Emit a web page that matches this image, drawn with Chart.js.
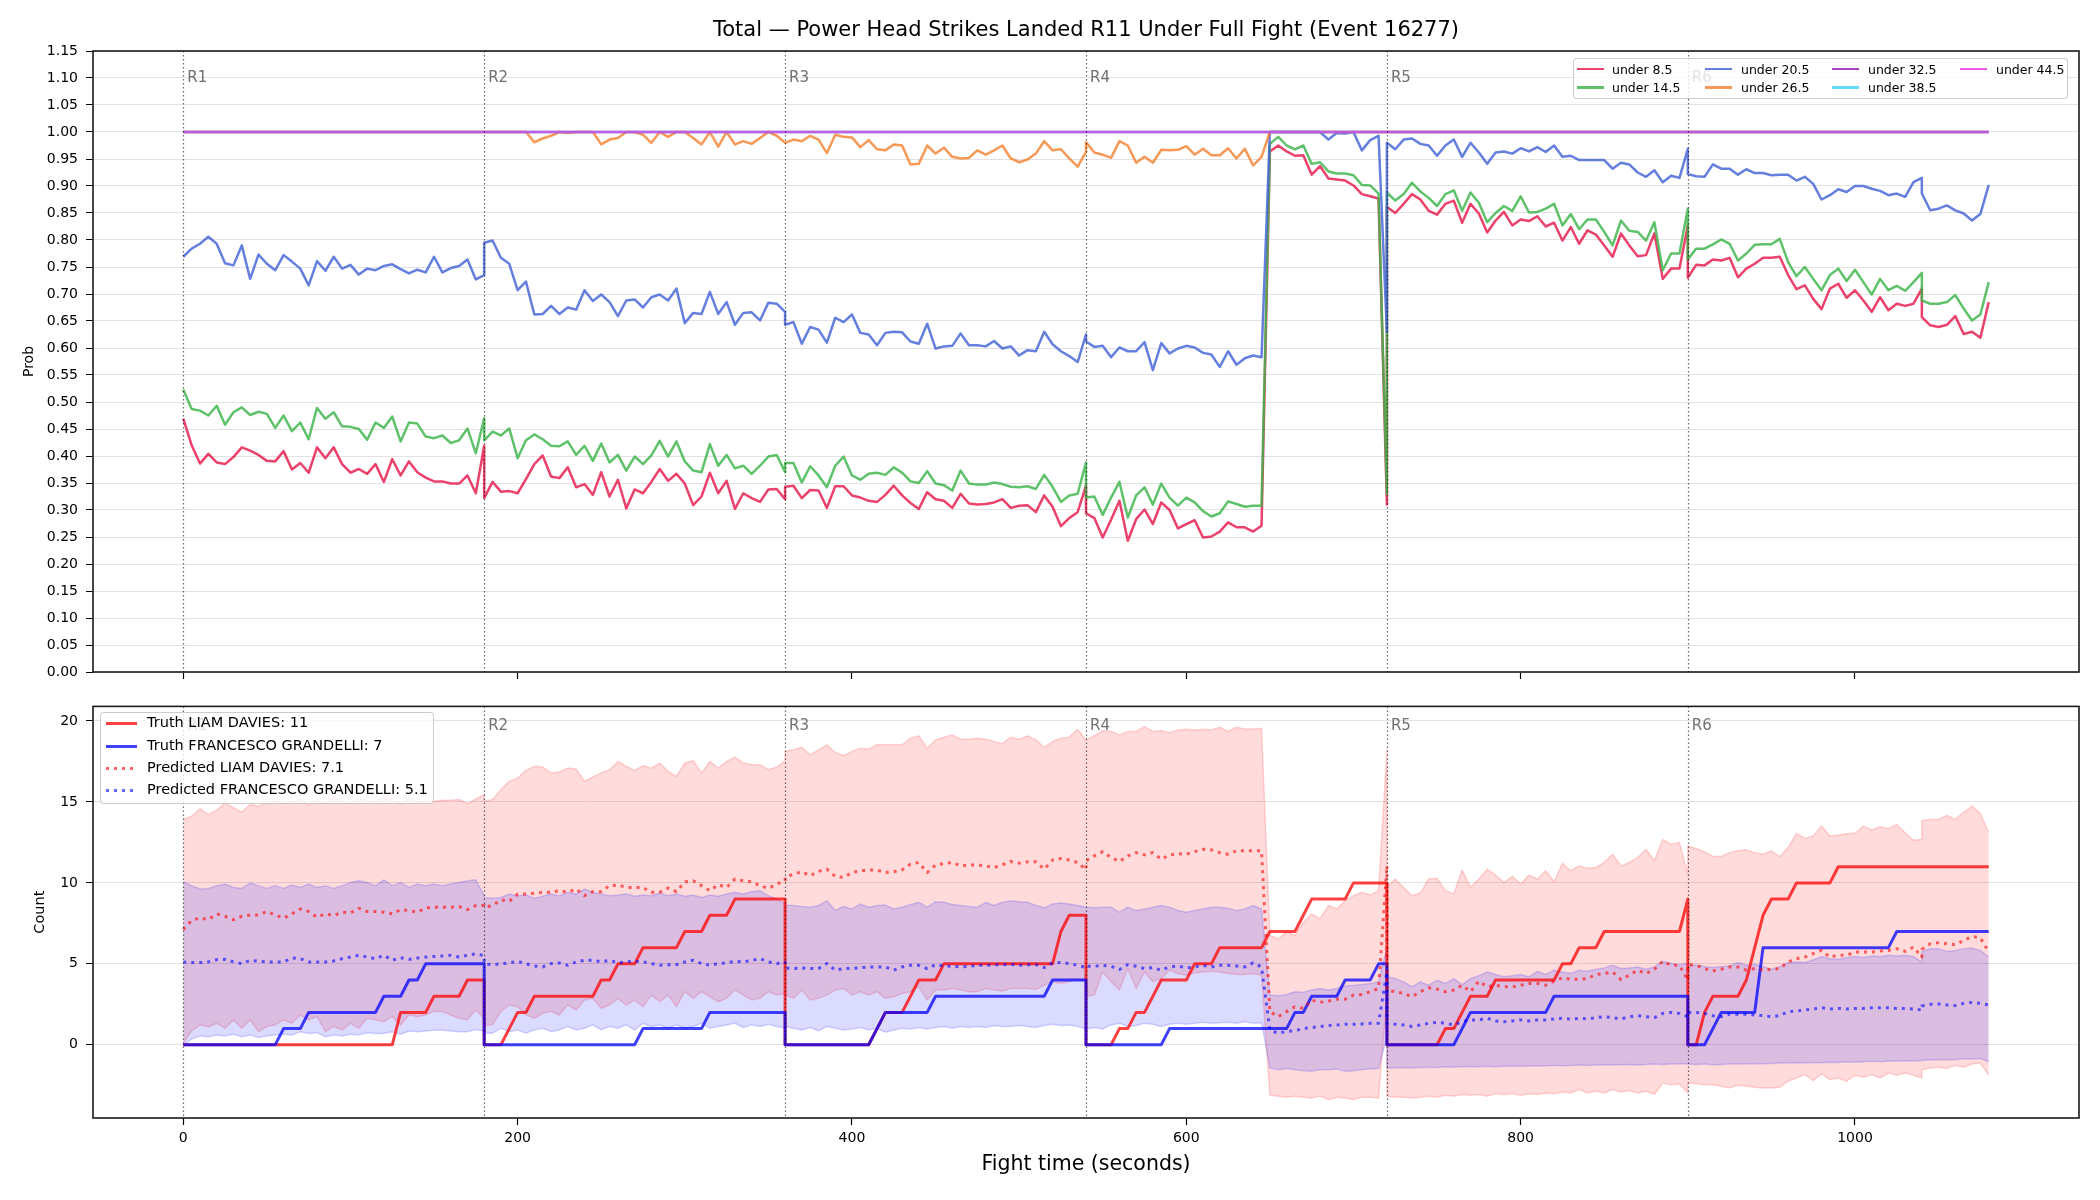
<!DOCTYPE html>
<html>
<head>
<meta charset="utf-8">
<script src="https://cdn.jsdelivr.net/npm/chart.js@4.4.1/dist/chart.umd.min.js"></script>
<style>
  html, body { margin:0; padding:0; background:#fff; }
  body { width:2100px; height:1200px; position:relative; overflow:hidden; font-family:"DejaVu Sans", sans-serif; }
  canvas { position:absolute; left:0; }
  .legend { position:absolute; box-sizing:border-box; background:rgba(255,255,255,0.8); border:1px solid rgba(0,0,0,0.2); border-radius:4px; }
  .item { position:absolute; white-space:nowrap; color:#000; }
  .handle { position:absolute; }
</style>
</head>
<body>
<canvas id="top" width="2100" height="690" style="top:0"></canvas>
<canvas id="bottom" width="2100" height="510" style="top:690px"></canvas>
<div id="legTop" class="legend" style="left:1573px;top:58px;width:495px;height:41px"></div>
<div id="legBot" class="legend" style="left:100px;top:712px;width:334px;height:92px"></div>
<script>
// ---------------- DATA ----------------
const chartTitle = "Total \u2014 Power Head Strikes Landed R11 Under Full Fight (Event 16277)";
const xAxisTitle = "Fight time (seconds)";
const roundStarts = [0, 180, 360, 540, 720, 900];
const roundLabels = ["R1", "R2", "R3", "R4", "R5", "R6"];
const timeTicks = [0, 200, 400, 600, 800, 1000];
const probTicks = [0,0.05,0.10,0.15,0.20,0.25,0.30,0.35,0.40,0.45,0.50,0.55,0.60,0.65,0.70,0.75,0.80,0.85,0.90,0.95,1.00,1.05,1.10,1.15];
const countTicks = [0, 5, 10, 15, 20];

const times = [
  0,5,10,15,20,25,30,35,40,45,50,55,60,65,70,75,80,85,90,95,100,105,110,115,120,125,130,135,140,145,150,155,160,165,170,175,180,
  180,185,190,195,200,205,210,215,220,225,230,235,240,245,250,255,260,265,270,275,280,285,290,295,300,305,310,315,320,325,330,335,340,345,350,355,360,
  360,365,370,375,380,385,390,395,400,405,410,415,420,425,430,435,440,445,450,455,460,465,470,475,480,485,490,495,500,505,510,515,520,525,530,535,540,
  540,545,550,555,560,565,570,575,580,585,590,595,600,605,610,615,620,625,630,635,640,645,650,655,660,665,670,675,680,685,690,695,700,705,710,715,720,
  720,725,730,735,740,745,750,755,760,765,770,775,780,785,790,795,800,805,810,815,820,825,830,835,840,845,850,855,860,865,870,875,880,885,890,895,900,
  900,905,910,915,920,925,930,935,940,945,950,955,960,965,970,975,980,985,990,995,1000,1005,1010,1015,1020,1025,1030,1035,1040,1040,1045,1050,1055,1060,1065,1070,1075,1080
];

const probLabels = ["under 8.5", "under 14.5", "under 20.5", "under 26.5", "under 32.5", "under 38.5", "under 44.5"];

const under8_5 = [
  0.469,0.420,0.386,0.404,0.388,0.385,0.398,0.416,0.410,0.402,0.391,0.390,0.409,0.375,0.387,0.369,0.416,0.396,0.416,0.385,0.369,0.376,0.367,0.385,0.352,0.394,0.364,0.390,0.370,0.360,0.353,0.353,0.349,0.349,0.364,0.331,0.419,
  0.322,0.352,0.334,0.335,0.331,0.357,0.385,0.401,0.362,0.359,0.379,0.342,0.348,0.328,0.370,0.325,0.356,0.303,0.338,0.331,0.352,0.376,0.354,0.367,0.349,0.309,0.325,0.369,0.331,0.354,0.302,0.331,0.322,0.315,0.338,0.339,0.320,
  0.343,0.345,0.322,0.337,0.336,0.304,0.344,0.344,0.327,0.323,0.317,0.315,0.328,0.345,0.327,0.313,0.302,0.333,0.320,0.317,0.304,0.330,0.312,0.310,0.311,0.314,0.320,0.304,0.308,0.309,0.296,0.327,0.306,0.270,0.285,0.296,0.345,
  0.294,0.285,0.249,0.282,0.317,0.243,0.283,0.301,0.274,0.314,0.300,0.266,0.274,0.281,0.249,0.251,0.260,0.277,0.268,0.268,0.260,0.271,0.964,0.975,0.964,0.956,0.957,0.921,0.937,0.914,0.912,0.910,0.901,0.885,0.881,0.877,0.310,
  0.861,0.850,0.867,0.885,0.875,0.854,0.847,0.867,0.873,0.832,0.867,0.849,0.814,0.836,0.852,0.827,0.838,0.835,0.844,0.825,0.832,0.799,0.824,0.793,0.818,0.810,0.790,0.769,0.812,0.790,0.770,0.772,0.812,0.728,0.747,0.747,0.827,
  0.730,0.754,0.753,0.764,0.762,0.767,0.731,0.747,0.756,0.767,0.767,0.769,0.735,0.709,0.716,0.691,0.672,0.710,0.719,0.693,0.707,0.688,0.667,0.694,0.670,0.682,0.678,0.682,0.710,0.657,0.642,0.639,0.643,0.659,0.626,0.630,0.619,0.685
];
const under14_5 = [
  0.523,0.487,0.484,0.475,0.493,0.458,0.481,0.490,0.476,0.482,0.478,0.452,0.475,0.446,0.462,0.431,0.489,0.469,0.481,0.455,0.454,0.450,0.430,0.462,0.452,0.473,0.427,0.462,0.460,0.436,0.433,0.438,0.424,0.429,0.451,0.405,0.470,
  0.429,0.445,0.438,0.451,0.396,0.429,0.440,0.431,0.419,0.418,0.427,0.402,0.419,0.391,0.423,0.388,0.402,0.373,0.399,0.385,0.401,0.428,0.399,0.427,0.390,0.373,0.370,0.422,0.382,0.402,0.377,0.382,0.367,0.382,0.399,0.402,0.370,
  0.387,0.387,0.351,0.381,0.364,0.342,0.382,0.399,0.364,0.356,0.367,0.369,0.365,0.379,0.369,0.353,0.350,0.372,0.349,0.346,0.336,0.373,0.349,0.347,0.347,0.351,0.348,0.343,0.342,0.344,0.339,0.365,0.343,0.315,0.327,0.330,0.388,
  0.323,0.325,0.291,0.323,0.352,0.286,0.327,0.342,0.310,0.349,0.323,0.308,0.323,0.314,0.298,0.288,0.294,0.316,0.311,0.306,0.308,0.308,0.978,0.991,0.975,0.968,0.975,0.941,0.944,0.927,0.923,0.923,0.920,0.902,0.901,0.886,0.330,
  0.888,0.873,0.885,0.906,0.890,0.878,0.863,0.885,0.892,0.854,0.888,0.869,0.833,0.850,0.863,0.854,0.881,0.851,0.852,0.858,0.867,0.827,0.848,0.820,0.838,0.838,0.815,0.790,0.836,0.817,0.815,0.799,0.833,0.744,0.775,0.775,0.858,
  0.764,0.784,0.784,0.792,0.801,0.793,0.762,0.775,0.791,0.792,0.792,0.802,0.759,0.733,0.750,0.728,0.707,0.735,0.747,0.724,0.745,0.722,0.699,0.728,0.707,0.715,0.706,0.722,0.739,0.688,0.682,0.682,0.685,0.698,0.673,0.651,0.662,0.722
];
const under20_5 = [
  0.769,0.784,0.793,0.806,0.793,0.757,0.753,0.790,0.728,0.773,0.756,0.744,0.772,0.760,0.747,0.716,0.761,0.743,0.769,0.747,0.754,0.736,0.747,0.744,0.752,0.755,0.746,0.738,0.745,0.740,0.769,0.740,0.748,0.752,0.764,0.727,0.735,
  0.795,0.799,0.767,0.756,0.707,0.723,0.662,0.663,0.678,0.663,0.675,0.671,0.707,0.687,0.699,0.685,0.659,0.688,0.690,0.675,0.694,0.699,0.688,0.710,0.646,0.665,0.663,0.704,0.663,0.685,0.643,0.665,0.666,0.651,0.684,0.682,0.667,
  0.643,0.648,0.608,0.639,0.634,0.610,0.656,0.648,0.662,0.628,0.625,0.605,0.628,0.630,0.629,0.612,0.608,0.645,0.599,0.603,0.604,0.627,0.605,0.605,0.603,0.613,0.599,0.603,0.586,0.596,0.594,0.630,0.607,0.594,0.585,0.574,0.625,
  0.612,0.602,0.604,0.583,0.601,0.594,0.594,0.611,0.559,0.609,0.590,0.599,0.604,0.601,0.591,0.588,0.565,0.594,0.569,0.581,0.586,0.583,1.000,1.000,1.000,1.000,1.000,1.000,1.000,0.986,0.998,0.997,1.000,0.966,0.985,0.993,0.630,
  0.980,0.968,0.986,0.988,0.978,0.975,0.956,0.975,0.986,0.954,0.980,0.962,0.941,0.962,0.964,0.960,0.970,0.964,0.972,0.963,0.975,0.954,0.956,0.948,0.948,0.948,0.948,0.932,0.943,0.940,0.925,0.917,0.929,0.907,0.919,0.915,0.969,
  0.922,0.918,0.917,0.940,0.932,0.932,0.921,0.931,0.924,0.924,0.920,0.921,0.921,0.910,0.917,0.904,0.875,0.883,0.894,0.889,0.900,0.900,0.895,0.891,0.883,0.886,0.880,0.907,0.915,0.886,0.855,0.858,0.864,0.855,0.849,0.836,0.848,0.902
];
const under26_5 = [
  1,1,1,1,1,1,1,1,1,1,1,1,1,1,1,1,1,1,1,1,1,1,1,1,1,1,1,1,1,1,1,1,1,1,1,1,1,
  1,1,1,1,1,1,0.981,0.988,0.993,1.000,0.998,1.000,1.000,1.000,0.977,0.986,0.989,1.000,1.000,0.995,0.980,1.000,0.991,1.000,1.000,0.989,0.977,1.000,0.973,1.000,0.977,0.983,0.978,0.989,1.000,0.993,0.980,
  0.980,0.986,0.983,0.993,0.986,0.961,0.995,0.991,0.990,0.972,0.985,0.968,0.966,0.977,0.975,0.940,0.941,0.975,0.960,0.971,0.954,0.951,0.952,0.966,0.958,0.966,0.975,0.951,0.944,0.949,0.960,0.983,0.966,0.968,0.951,0.936,0.963,
  0.981,0.962,0.958,0.952,0.983,0.975,0.943,0.954,0.943,0.967,0.966,0.967,0.974,0.958,0.969,0.957,0.957,0.970,0.951,0.969,0.938,0.954,1,1,1,1,1,1,1,1,1,1,1,1,1,1,1,
  1,1,1,1,1,1,1,1,1,1,1,1,1,1,1,1,1,1,1,1,1,1,1,1,1,1,1,1,1,1,1,1,1,1,1,1,1,
  1,1,1,1,1,1,1,1,1,1,1,1,1,1,1,1,1,1,1,1,1,1,1,1,1,1,1,1,1,1,1,1,1,1,1,1,1,1
];
const under32_5 = [
  1,1,1,1,1,1,1,1,1,1,1,1,1,1,1,1,1,1,1,1,1,1,1,1,1,1,1,1,1,1,1,1,1,1,1,1,1,
  1,1,1,1,1,1,1,1,1,1,1,1,1,1,1,1,1,1,1,1,1,1,1,1,1,1,1,1,1,1,1,1,1,1,1,1,1,
  1,1,1,1,1,1,1,1,1,1,1,1,1,1,1,1,1,1,1,1,1,1,1,1,1,1,1,1,1,1,1,1,1,1,1,1,1,
  1,1,1,1,1,1,1,1,1,1,1,1,1,1,1,1,1,1,1,1,1,1,1,1,1,1,1,1,1,1,1,1,1,1,1,1,1,
  1,1,1,1,1,1,1,1,1,1,1,1,1,1,1,1,1,1,1,1,1,1,1,1,1,1,1,1,1,1,1,1,1,1,1,1,1,
  1,1,1,1,1,1,1,1,1,1,1,1,1,1,1,1,1,1,1,1,1,1,1,1,1,1,1,1,1,1,1,1,1,1,1,1,1,1
];
const under38_5 = [
  1,1,1,1,1,1,1,1,1,1,1,1,1,1,1,1,1,1,1,1,1,1,1,1,1,1,1,1,1,1,1,1,1,1,1,1,1,
  1,1,1,1,1,1,1,1,1,1,1,1,1,1,1,1,1,1,1,1,1,1,1,1,1,1,1,1,1,1,1,1,1,1,1,1,1,
  1,1,1,1,1,1,1,1,1,1,1,1,1,1,1,1,1,1,1,1,1,1,1,1,1,1,1,1,1,1,1,1,1,1,1,1,1,
  1,1,1,1,1,1,1,1,1,1,1,1,1,1,1,1,1,1,1,1,1,1,1,1,1,1,1,1,1,1,1,1,1,1,1,1,1,
  1,1,1,1,1,1,1,1,1,1,1,1,1,1,1,1,1,1,1,1,1,1,1,1,1,1,1,1,1,1,1,1,1,1,1,1,1,
  1,1,1,1,1,1,1,1,1,1,1,1,1,1,1,1,1,1,1,1,1,1,1,1,1,1,1,1,1,1,1,1,1,1,1,1,1,1
];
const under44_5 = [
  1,1,1,1,1,1,1,1,1,1,1,1,1,1,1,1,1,1,1,1,1,1,1,1,1,1,1,1,1,1,1,1,1,1,1,1,1,
  1,1,1,1,1,1,1,1,1,1,1,1,1,1,1,1,1,1,1,1,1,1,1,1,1,1,1,1,1,1,1,1,1,1,1,1,1,
  1,1,1,1,1,1,1,1,1,1,1,1,1,1,1,1,1,1,1,1,1,1,1,1,1,1,1,1,1,1,1,1,1,1,1,1,1,
  1,1,1,1,1,1,1,1,1,1,1,1,1,1,1,1,1,1,1,1,1,1,1,1,1,1,1,1,1,1,1,1,1,1,1,1,1,
  1,1,1,1,1,1,1,1,1,1,1,1,1,1,1,1,1,1,1,1,1,1,1,1,1,1,1,1,1,1,1,1,1,1,1,1,1,
  1,1,1,1,1,1,1,1,1,1,1,1,1,1,1,1,1,1,1,1,1,1,1,1,1,1,1,1,1,1,1,1,1,1,1,1,1,1
];

const fighterA = "LIAM DAVIES";
const fighterB = "FRANCESCO GRANDELLI";
const truthTotals = [11, 7];
const predictedTotals = [7.1, 5.1];

const truthA = [
  0,0,0,0,0,0,0,0,0,0,0,0,0,0,0,0,0,0,0,0,0,0,0,0,0,0,2,2,2,2,3,3,3,3,4,4,4,
  0,0,0,1,2,2,3,3,3,3,3,3,3,3,4,4,5,5,5,6,6,6,6,6,7,7,7,8,8,8,9,9,9,9,9,9,9,
  0,0,0,0,0,0,0,0,0,0,0,1,2,2,2,3,4,4,4,5,5,5,5,5,5,5,5,5,5,5,5,5,5,7,8,8,8,
  0,0,0,0,1,1,2,2,3,4,4,4,4,5,5,5,6,6,6,6,6,6,7,7,7,7,8,9,9,9,9,9,10,10,10,10,10,
  0,0,0,0,0,0,0,1,1,2,3,3,3,4,4,4,4,4,4,4,4,5,5,6,6,6,7,7,7,7,7,7,7,7,7,7,9,
  0,0,2,3,3,3,3,4,6,8,9,9,9,10,10,10,10,10,11,11,11,11,11,11,11,11,11,11,11,11,11,11,11,11,11,11,11,11
];
const truthB = [
  0,0,0,0,0,0,0,0,0,0,0,0,1,1,1,2,2,2,2,2,2,2,2,2,3,3,3,4,4,5,5,5,5,5,5,5,5,
  0,0,0,0,0,0,0,0,0,0,0,0,0,0,0,0,0,0,0,1,1,1,1,1,1,1,1,2,2,2,2,2,2,2,2,2,2,
  0,0,0,0,0,0,0,0,0,0,0,1,2,2,2,2,2,2,3,3,3,3,3,3,3,3,3,3,3,3,3,3,4,4,4,4,4,
  0,0,0,0,0,0,0,0,0,0,1,1,1,1,1,1,1,1,1,1,1,1,1,1,1,2,2,3,3,3,3,4,4,4,4,5,5,
  0,0,0,0,0,0,0,0,0,1,2,2,2,2,2,2,2,2,2,2,3,3,3,3,3,3,3,3,3,3,3,3,3,3,3,3,3,
  0,0,0,1,2,2,2,2,2,6,6,6,6,6,6,6,6,6,6,6,6,6,6,6,6,7,7,7,7,7,7,7,7,7,7,7,7,7
];
const predA = [
  7.12,7.68,7.84,7.74,8.09,7.94,7.72,7.94,8.02,8.02,8.23,8.02,7.82,8.09,8.39,8.23,7.88,8.09,7.98,8.19,8.15,8.43,8.23,8.23,8.19,8.09,8.35,8.29,8.19,8.45,8.50,8.50,8.50,8.54,8.35,8.60,8.60,
  8.50,8.60,8.95,8.86,9.31,9.31,9.36,9.42,9.42,9.52,9.42,9.62,9.21,9.46,9.46,9.83,9.87,9.72,9.72,9.72,9.42,9.42,9.68,9.46,10.07,10.13,9.83,9.52,9.89,9.72,10.24,10.13,10.07,9.83,9.66,9.93,10.13,
  10.34,10.54,10.69,10.44,10.71,10.85,10.40,10.34,10.64,10.75,10.79,10.79,10.64,10.69,10.81,11.16,11.26,10.64,11.10,11.20,11.26,11.05,11.10,11.10,11.05,10.95,11.12,11.32,11.22,11.30,11.30,10.85,11.42,11.50,11.42,11.26,10.81,
  11.36,11.67,11.93,11.57,11.32,11.67,11.87,11.73,11.87,11.46,11.73,11.81,11.77,11.93,12.08,12.04,11.87,11.77,11.98,11.98,11.98,11.98,2.05,1.74,2.05,2.35,2.25,2.76,2.62,2.70,2.82,2.82,3.07,3.11,3.28,3.48,11.05,
  3.38,3.28,3.17,2.97,3.28,3.52,3.44,3.28,3.38,3.68,3.28,3.93,3.58,3.68,3.58,3.58,3.68,3.79,3.79,3.68,3.93,4.14,4.05,4.05,4.09,4.34,4.40,4.50,4.03,4.30,4.61,4.40,4.67,5.16,4.91,4.91,3.99,
  4.95,4.91,4.71,4.56,4.67,4.81,4.81,4.61,4.71,4.61,4.67,4.71,5.12,5.32,5.42,5.63,5.83,5.42,5.53,5.53,5.73,5.73,5.73,5.79,5.83,5.94,5.77,6.04,5.42,5.90,6.24,6.30,6.24,6.18,6.45,6.69,6.61,5.73
];
const predB = [
  5.12,5.08,5.08,5.12,5.26,5.28,5.12,5.02,5.22,5.16,5.12,5.12,5.12,5.36,5.32,5.12,5.12,5.12,5.18,5.32,5.42,5.53,5.42,5.32,5.53,5.22,5.38,5.28,5.36,5.42,5.46,5.49,5.53,5.42,5.53,5.63,5.50,
  5.00,4.95,5.00,5.06,5.16,5.00,4.87,4.81,5.02,5.06,4.91,5.12,5.22,5.22,5.12,5.22,5.06,5.12,5.16,5.12,5.02,4.91,4.95,4.95,5.12,5.22,5.02,4.91,5.02,5.06,5.16,5.12,5.22,5.32,5.12,5.02,5.12,
  4.75,4.71,4.75,4.71,4.71,5.02,4.61,4.71,4.71,4.77,4.81,4.81,4.81,4.61,4.81,4.91,4.91,4.71,4.95,4.87,4.85,4.81,4.85,4.91,4.91,4.95,4.95,4.97,4.91,4.95,4.95,4.77,5.06,5.08,5.02,4.91,4.77,
  4.85,4.85,4.91,4.85,4.65,4.95,4.85,4.71,4.77,4.61,4.81,4.87,4.75,4.81,4.91,4.81,4.91,4.91,4.87,4.81,5.06,4.81,0.90,0.72,0.82,0.86,1.02,1.06,1.13,1.19,1.23,1.27,1.27,1.29,1.33,1.33,4.50,
  1.33,1.27,1.23,1.13,1.23,1.33,1.39,1.33,1.23,1.43,1.54,1.54,1.64,1.47,1.43,1.47,1.54,1.47,1.54,1.54,1.60,1.64,1.58,1.64,1.60,1.68,1.74,1.68,1.60,1.74,1.80,1.74,1.68,1.94,2.00,1.94,1.74,
  2.00,2.00,1.94,1.80,1.74,1.90,1.88,1.88,1.84,1.80,1.74,1.80,2.05,2.09,2.15,2.21,2.29,2.21,2.25,2.21,2.25,2.25,2.29,2.29,2.29,2.25,2.25,2.21,2.15,2.40,2.50,2.52,2.46,2.42,2.56,2.62,2.56,2.46
];
const bandAUpper = [
  13.92,14.12,14.58,14.23,14.49,14.94,14.64,14.37,14.84,14.74,14.94,15.10,14.90,15.00,15.20,14.80,15.10,14.90,15.30,15.00,14.90,15.20,15.10,15.00,15.30,15.10,14.90,15.20,15.00,15.10,15.05,15.10,15.11,15.15,14.90,15.19,15.45,
  15.05,15.15,15.76,16.27,16.48,16.95,17.20,17.15,16.79,16.85,17.09,17.03,16.27,16.54,16.79,16.99,17.50,17.20,16.95,17.24,17.09,17.40,16.89,16.58,17.40,17.56,16.79,17.50,17.09,17.50,17.77,17.40,17.30,17.30,17.00,17.15,17.55,
  18.12,18.22,18.38,17.91,18.22,18.53,18.06,17.85,18.12,18.32,18.26,18.53,18.53,18.53,18.53,18.94,19.08,18.32,18.83,19.00,19.14,18.87,18.87,18.94,18.87,18.73,18.59,19.00,18.87,19.08,18.83,18.38,18.73,18.94,19.00,19.49,18.83,
  18.83,19.08,19.41,19.35,19.14,19.35,19.35,19.65,19.35,19.41,19.28,19.45,19.49,19.45,19.49,19.45,19.61,19.35,19.61,19.51,19.51,19.55,6.76,6.55,6.96,6.76,7.57,8.09,7.78,8.60,8.39,8.90,9.21,9.42,9.25,9.52,18.22,
  9.72,10.24,9.72,9.21,9.38,10.24,10.28,9.52,9.31,10.79,9.72,10.24,10.85,10.48,10.03,10.40,9.93,10.48,10.24,10.75,10.07,11.22,10.75,11.05,10.91,10.95,11.26,11.77,11.05,11.26,11.57,12.08,11.36,12.69,12.38,12.49,10.54,
  12.28,12.12,11.91,11.63,11.63,11.87,11.98,12.04,11.87,11.77,11.98,11.63,12.18,13.06,12.75,12.90,13.51,12.90,12.96,13.04,13.06,13.51,13.27,13.47,13.35,13.61,13.10,12.63,12.69,13.86,13.92,13.92,14.17,13.92,14.37,14.74,14.29,13.10
];
const bandALower = [
  0.10,0.86,1.23,1.10,1.33,1.02,1.54,1.02,1.54,0.82,1.13,1.23,1.54,1.33,1.84,1.54,1.74,0.82,1.13,0.92,1.33,1.02,1.64,1.54,1.43,1.74,1.23,1.84,1.74,1.84,2.05,2.05,1.84,1.64,1.54,2.15,1.64,
  1.20,1.23,2.05,2.46,2.35,1.84,1.64,1.95,2.05,1.84,2.46,2.15,2.76,2.87,2.25,2.46,2.87,2.46,2.76,2.35,3.07,2.66,3.07,2.35,3.28,2.87,3.28,2.97,2.66,2.87,3.38,3.07,2.76,2.87,3.28,3.07,3.17,
  3.07,2.87,3.38,2.76,2.87,3.07,3.38,3.48,3.07,3.28,3.07,3.28,2.87,2.97,3.17,3.28,3.58,2.76,3.38,3.38,3.48,3.38,3.28,3.28,3.48,3.38,3.32,3.48,3.48,3.48,3.42,3.68,3.89,3.79,3.89,4.09,3.89,
  3.00,3.07,4.50,3.89,3.38,4.71,3.48,4.50,3.89,4.09,4.61,4.40,4.30,4.44,4.50,4.54,4.50,4.40,4.34,4.34,4.40,4.30,-3.11,-3.17,-3.24,-3.17,-3.24,-3.28,-3.17,-3.38,-3.24,-3.28,-3.38,-3.24,-3.24,-3.28,3.00,
  -3.17,-3.24,-3.24,-3.28,-3.24,-3.17,-3.24,-3.11,-3.17,-3.07,-3.11,-3.07,-3.17,-3.03,-3.07,-3.03,-3.11,-3.03,-3.07,-2.97,-3.03,-2.91,-2.97,-2.76,-2.97,-2.87,-2.97,-2.76,-2.91,-2.83,-2.97,-2.87,-3.07,-2.35,-2.46,-2.42,-2.97,
  -2.35,-2.40,-2.46,-2.46,-2.56,-2.66,-2.50,-2.56,-2.62,-2.66,-2.66,-2.62,-2.25,-2.05,-1.84,-2.21,-1.80,-2.15,-2.05,-2.25,-1.88,-2.01,-1.84,-2.05,-1.74,-1.88,-1.74,-1.88,-2.05,-1.54,-1.43,-1.39,-1.47,-1.27,-1.39,-1.19,-1.13,-1.88
];
const bandBUpper = [
  10.07,9.83,9.62,9.66,9.83,9.93,9.72,9.66,9.99,9.83,9.66,9.83,9.66,9.87,9.72,9.93,9.72,9.83,9.66,9.83,10.03,10.13,10.03,9.83,10.19,9.83,10.03,9.72,9.93,9.83,9.93,9.83,9.93,10.03,10.13,10.19,9.20,
  9.10,9.05,9.10,9.31,9.21,9.25,9.05,9.17,9.31,9.21,9.42,9.31,9.62,9.42,9.31,9.21,9.25,9.31,9.17,9.25,9.21,9.38,9.21,9.31,9.17,9.25,9.10,9.25,9.17,9.31,9.42,9.31,9.46,9.52,9.21,9.01,8.70,
  8.64,8.60,8.54,8.50,8.60,8.90,8.29,8.54,8.39,8.70,8.50,8.60,8.64,8.39,8.50,8.66,8.80,8.50,8.84,8.80,8.66,8.60,8.54,8.50,8.80,8.60,8.80,8.90,8.84,8.80,8.60,8.46,8.70,8.76,8.70,8.60,8.50,
  8.50,8.46,8.50,8.50,8.19,8.50,8.29,8.39,8.50,8.60,8.50,8.29,8.19,8.29,8.39,8.50,8.50,8.44,8.29,8.39,8.60,8.39,3.07,3.03,3.11,3.28,3.24,3.38,3.48,3.38,3.48,3.64,3.68,3.72,3.79,3.89,6.00,
  4.20,4.09,3.89,3.58,3.89,3.68,3.99,3.79,4.09,3.72,4.09,4.26,4.50,4.34,4.20,4.26,4.34,4.20,4.54,4.34,4.61,4.50,4.40,4.61,4.54,4.67,4.75,4.91,4.71,4.75,4.81,4.67,4.81,5.16,5.02,4.95,5.02,
  4.95,4.91,4.83,4.77,4.83,4.87,5.08,4.91,4.97,4.83,4.67,4.83,5.08,5.12,5.08,5.24,5.45,5.32,5.28,5.39,5.45,5.39,5.49,5.45,5.53,5.49,5.53,5.45,5.12,5.77,5.94,5.94,5.77,5.83,5.94,5.98,5.83,5.42
];
const bandBLower = [
  0.00,0.35,0.55,0.50,0.60,0.55,0.65,0.50,0.60,0.45,0.55,0.60,0.65,0.60,0.80,0.70,0.75,0.50,0.60,0.55,0.65,0.60,0.75,0.70,0.70,0.80,0.65,0.85,0.80,0.85,0.90,0.90,0.85,0.80,0.80,0.95,0.85,
  0.72,0.72,1.02,0.82,0.92,0.72,0.92,1.02,0.82,0.92,1.13,0.92,1.02,1.23,0.92,1.13,1.02,1.23,0.92,1.33,1.13,1.23,1.02,1.23,1.02,1.13,1.33,1.02,1.13,1.23,1.33,1.07,1.23,1.13,1.27,1.13,1.02,
  1.13,1.02,0.92,1.07,0.86,1.13,1.02,0.92,0.98,1.07,0.92,1.02,0.78,0.92,1.02,0.98,1.07,0.98,1.07,1.13,1.02,1.13,1.07,1.13,1.07,1.19,1.13,1.13,1.19,1.13,1.07,1.19,1.27,1.19,1.23,1.13,0.98,
  0.98,1.07,0.98,1.23,1.33,1.13,1.19,1.33,1.27,1.13,1.27,1.33,1.27,1.33,1.39,1.33,1.37,1.39,1.33,1.43,1.33,1.37,-1.43,-1.54,-1.47,-1.54,-1.60,-1.64,-1.54,-1.54,-1.50,-1.64,-1.60,-1.54,-1.50,-1.47,0.50,
  -1.43,-1.43,-1.40,-1.43,-1.40,-1.38,-1.40,-1.36,-1.38,-1.36,-1.34,-1.36,-1.33,-1.36,-1.33,-1.31,-1.33,-1.31,-1.29,-1.31,-1.27,-1.29,-1.27,-1.25,-1.27,-1.25,-1.23,-1.25,-1.23,-1.21,-1.25,-1.21,-1.19,-1.21,-1.19,-1.17,-1.19,
  -1.19,-1.21,-1.19,-1.23,-1.21,-1.19,-1.17,-1.19,-1.15,-1.17,-1.15,-1.13,-1.13,-1.11,-1.13,-1.09,-1.11,-1.07,-1.09,-1.05,-1.07,-1.05,-1.02,-1.05,-1.00,-1.02,-0.98,-1.00,-0.98,-0.96,-0.94,-0.92,-0.90,-0.92,-0.86,-0.88,-0.84,-1.05
];

// ---------------- STYLE ----------------
const FONT = '"DejaVu Sans", "Liberation Sans", sans-serif';
const probColors = ['rgba(230,25,75,0.82)','rgba(60,180,75,0.82)','rgba(67,99,216,0.82)','rgba(245,130,49,0.82)','rgba(145,30,180,0.82)','rgba(66,212,244,0.82)','rgba(240,50,230,0.82)'];
const probLineColors = ['rgba(230,25,75,0.82)','rgba(60,180,75,0.82)','rgba(67,99,216,0.82)','rgba(245,130,49,0.82)','rgba(145,30,180,0.62)','rgba(66,212,244,0.62)','rgba(240,50,230,0.62)'];
const redSolid = 'rgba(255,0,0,0.75)', blueSolid = 'rgba(0,0,255,0.75)';
const redDot = 'rgba(255,0,0,0.6)', blueDot = 'rgba(0,0,255,0.6)';
const redFill = 'rgba(255,0,0,0.14)', blueFill = 'rgba(0,0,255,0.14)';
const redEdge = 'rgba(255,0,0,0.16)', blueEdge = 'rgba(0,0,255,0.16)';

const probSeries = [under8_5, under14_5, under20_5, under26_5, under32_5, under38_5, under44_5];
[...probSeries, truthA, truthB, predA, predB, bandAUpper, bandALower, bandBUpper, bandBLower].forEach((a, i) => {
  if (a.length !== times.length) throw new Error('series ' + i + ' length ' + a.length + ' != ' + times.length);
});
const pts = arr => times.map((t, i) => ({x: t, y: arr[i]}));

const roundsPlugin = {
  id: 'rounds',
  afterDatasetsDraw(chart, args, opts) {
    const {ctx, chartArea: a, scales: {x, y}} = chart;
    ctx.save();
    ctx.beginPath(); ctx.rect(a.left, a.top, a.right - a.left, a.bottom - a.top); ctx.clip();
    ctx.strokeStyle = 'rgba(0,0,0,0.6)'; ctx.lineWidth = 1.2; ctx.setLineDash([1.5, 2.5]);
    roundStarts.forEach(t => {
      const px = Math.round(x.getPixelForValue(t)) + 0.5;
      ctx.beginPath(); ctx.moveTo(px, a.top); ctx.lineTo(px, a.bottom); ctx.stroke();
    });
    ctx.setLineDash([]);
    ctx.fillStyle = '#707070'; ctx.font = '15px ' + FONT; ctx.textBaseline = 'middle'; ctx.textAlign = 'left';
    roundStarts.forEach((t, i) => ctx.fillText(roundLabels[i], x.getPixelForValue(t) + 4, y.getPixelForValue(opts.labelY)));
    ctx.restore();
  },
  afterDraw(chart) {
    const {ctx, chartArea: a} = chart;
    ctx.save(); ctx.strokeStyle = '#1a1a1a'; ctx.lineWidth = 1.6;
    ctx.strokeRect(a.left, a.top, a.right - a.left, a.bottom - a.top);
    ctx.restore();
  }
};

const common = {
  responsive: false, animation: false, devicePixelRatio: 1,
  elements: { point: { radius: 0 }, line: { tension: 0, borderJoinStyle: 'round' } },
};
const xScale = (labels, afterFitH, title) => ({
  type: 'linear', min: -54, max: 1134,
  afterBuildTicks: s => { s.ticks = timeTicks.map(v => ({value: v})); },
  ticks: { display: true, callback: labels ? (v => String(v)) : (() => ''), font: {family: FONT, size: 14}, color: '#000', padding: 5, maxRotation: 0, autoSkip: false },
  grid: { drawOnChartArea: false, drawTicks: true, tickLength: 7, tickColor: '#000', tickWidth: 1.2 },
  border: { display: false },
  title: title ? { display: true, text: title, font: {family: FONT, size: 20.5}, color: '#000', padding: {top: 0, bottom: 23} } : { display: false },
  afterFit: s => { s.height = afterFitH; }
});

// ---------------- TOP CHART ----------------
new Chart(document.getElementById('top'), {
  type: 'line',
  data: {
    datasets: probSeries.map((arr, i) => ({
      label: probLabels[i], data: pts(arr), borderColor: probLineColors[i], borderWidth: 2.5,
      fill: false, order: 6 - i
    }))
  },
  options: Object.assign({}, common, {
    layout: { padding: { left: 0, right: 21, top: 0, bottom: 0 } },
    plugins: {
      legend: { display: false }, tooltip: { enabled: false },
      title: { display: true, text: chartTitle, fullSize: false, font: {family: FONT, size: 21, weight: 'normal'}, color: '#000', padding: {top: 18, bottom: 7.8} },
      rounds: { labelY: 1.1 }
    },
    scales: {
      x: xScale(false, 18, null),
      y: {
        min: 0, max: 1.15,
        afterBuildTicks: s => { s.ticks = probTicks.map(v => ({value: v})); },
        ticks: { callback: v => v.toFixed(2), font: {family: FONT, size: 14}, color: '#000', padding: 8, autoSkip: false },
        grid: { color: '#e2e2e2', lineWidth: 1, tickColor: '#000', tickLength: 7, drawTicks: true },
        border: { display: false },
        title: { display: true, text: 'Prob', font: {family: FONT, size: 14}, color: '#000', padding: {top: 21, bottom: 0} },
        afterFit: s => { s.width = 93; }
      }
    }
  }),
  plugins: [roundsPlugin]
});

// ---------------- BOTTOM CHART ----------------
const legendBottomLabels = [
  'Truth ' + fighterA + ': ' + truthTotals[0],
  'Truth ' + fighterB + ': ' + truthTotals[1],
  'Predicted ' + fighterA + ': ' + predictedTotals[0],
  'Predicted ' + fighterB + ': ' + predictedTotals[1]
];
new Chart(document.getElementById('bottom'), {
  type: 'line',
  data: {
    datasets: [
      { label: legendBottomLabels[0], data: pts(truthA), borderColor: redSolid, borderWidth: 3, fill: false, order: 3 },
      { label: legendBottomLabels[1], data: pts(truthB), borderColor: blueSolid, borderWidth: 3, fill: false, order: 2 },
      { label: legendBottomLabels[2], data: pts(predA), borderColor: redDot, borderWidth: 3, borderDash: [3, 5], borderCapStyle: 'butt', fill: false, order: 1 },
      { label: legendBottomLabels[3], data: pts(predB), borderColor: blueDot, borderWidth: 3, borderDash: [3, 5], borderCapStyle: 'butt', fill: false, order: 0 },
      { label: 'A upper', data: pts(bandAUpper), borderColor: redEdge, borderWidth: 1.5, backgroundColor: redFill, fill: '+1', order: 5 },
      { label: 'A lower', data: pts(bandALower), borderColor: redEdge, borderWidth: 1.5, fill: false, order: 5 },
      { label: 'B upper', data: pts(bandBUpper), borderColor: blueEdge, borderWidth: 1.5, backgroundColor: blueFill, fill: '+1', order: 4 },
      { label: 'B lower', data: pts(bandBLower), borderColor: blueEdge, borderWidth: 1.5, fill: false, order: 4 }
    ]
  },
  options: Object.assign({}, common, {
    layout: { padding: { left: 0, right: 21, top: 14, bottom: 0 } },
    plugins: { legend: { display: false }, tooltip: { enabled: false }, rounds: { labelY: 19.7 } },
    scales: {
      x: xScale(true, 82, xAxisTitle),
      y: {
        min: -4.52, max: 20.9,
        afterBuildTicks: s => { s.ticks = countTicks.map(v => ({value: v})); },
        ticks: { callback: v => String(v), font: {family: FONT, size: 14}, color: '#000', padding: 8 },
        grid: { color: '#e2e2e2', lineWidth: 1, tickColor: '#000', tickLength: 7, drawTicks: true },
        border: { display: false },
        title: { display: true, text: 'Count', font: {family: FONT, size: 14.5}, color: '#000', padding: {top: 32, bottom: 0} },
        afterFit: s => { s.width = 93; }
      }
    }
  }),
  plugins: [roundsPlugin]
});

// ---------------- LEGENDS (HTML text) ----------------
function addItem(box, x, yc, w, thick, color, dotted, text, tx, fs) {
  const h = document.createElement('div');
  h.className = 'handle';
  h.style.left = x + 'px'; h.style.top = (yc - thick / 2) + 'px'; h.style.width = w + 'px'; h.style.height = thick + 'px';
  h.style.background = dotted ? `repeating-linear-gradient(90deg, ${color} 0 3px, transparent 3px 8px)` : color;
  box.appendChild(h);
  const t = document.createElement('div');
  t.className = 'item'; t.textContent = text;
  t.style.left = tx + 'px'; t.style.top = (yc - fs * 0.6) + 'px'; t.style.fontSize = fs + 'px'; t.style.lineHeight = (fs * 1.2) + 'px';
  box.appendChild(t);
}
const legTop = document.getElementById('legTop');
const colHandle = [3, 131, 258, 386], colText = [38, 167, 294, 422], rowY = [10, 28.5];
probLabels.forEach((lab, i) => {
  const c = Math.floor(i / 2), r = i % 2;
  addItem(legTop, colHandle[c], rowY[r], 27, 2.5, probColors[i], false, lab, colText[c], 12.5);
});
const legBot = document.getElementById('legBot');
const botColors = [redSolid, blueSolid, redDot, blueDot];
const botRows = [10, 33, 55, 77];
legendBottomLabels.forEach((lab, i) => {
  addItem(legBot, 5, botRows[i], 31, 3, botColors[i], i >= 2, lab, 46, 14.5);
});
</script>
</body>
</html>
